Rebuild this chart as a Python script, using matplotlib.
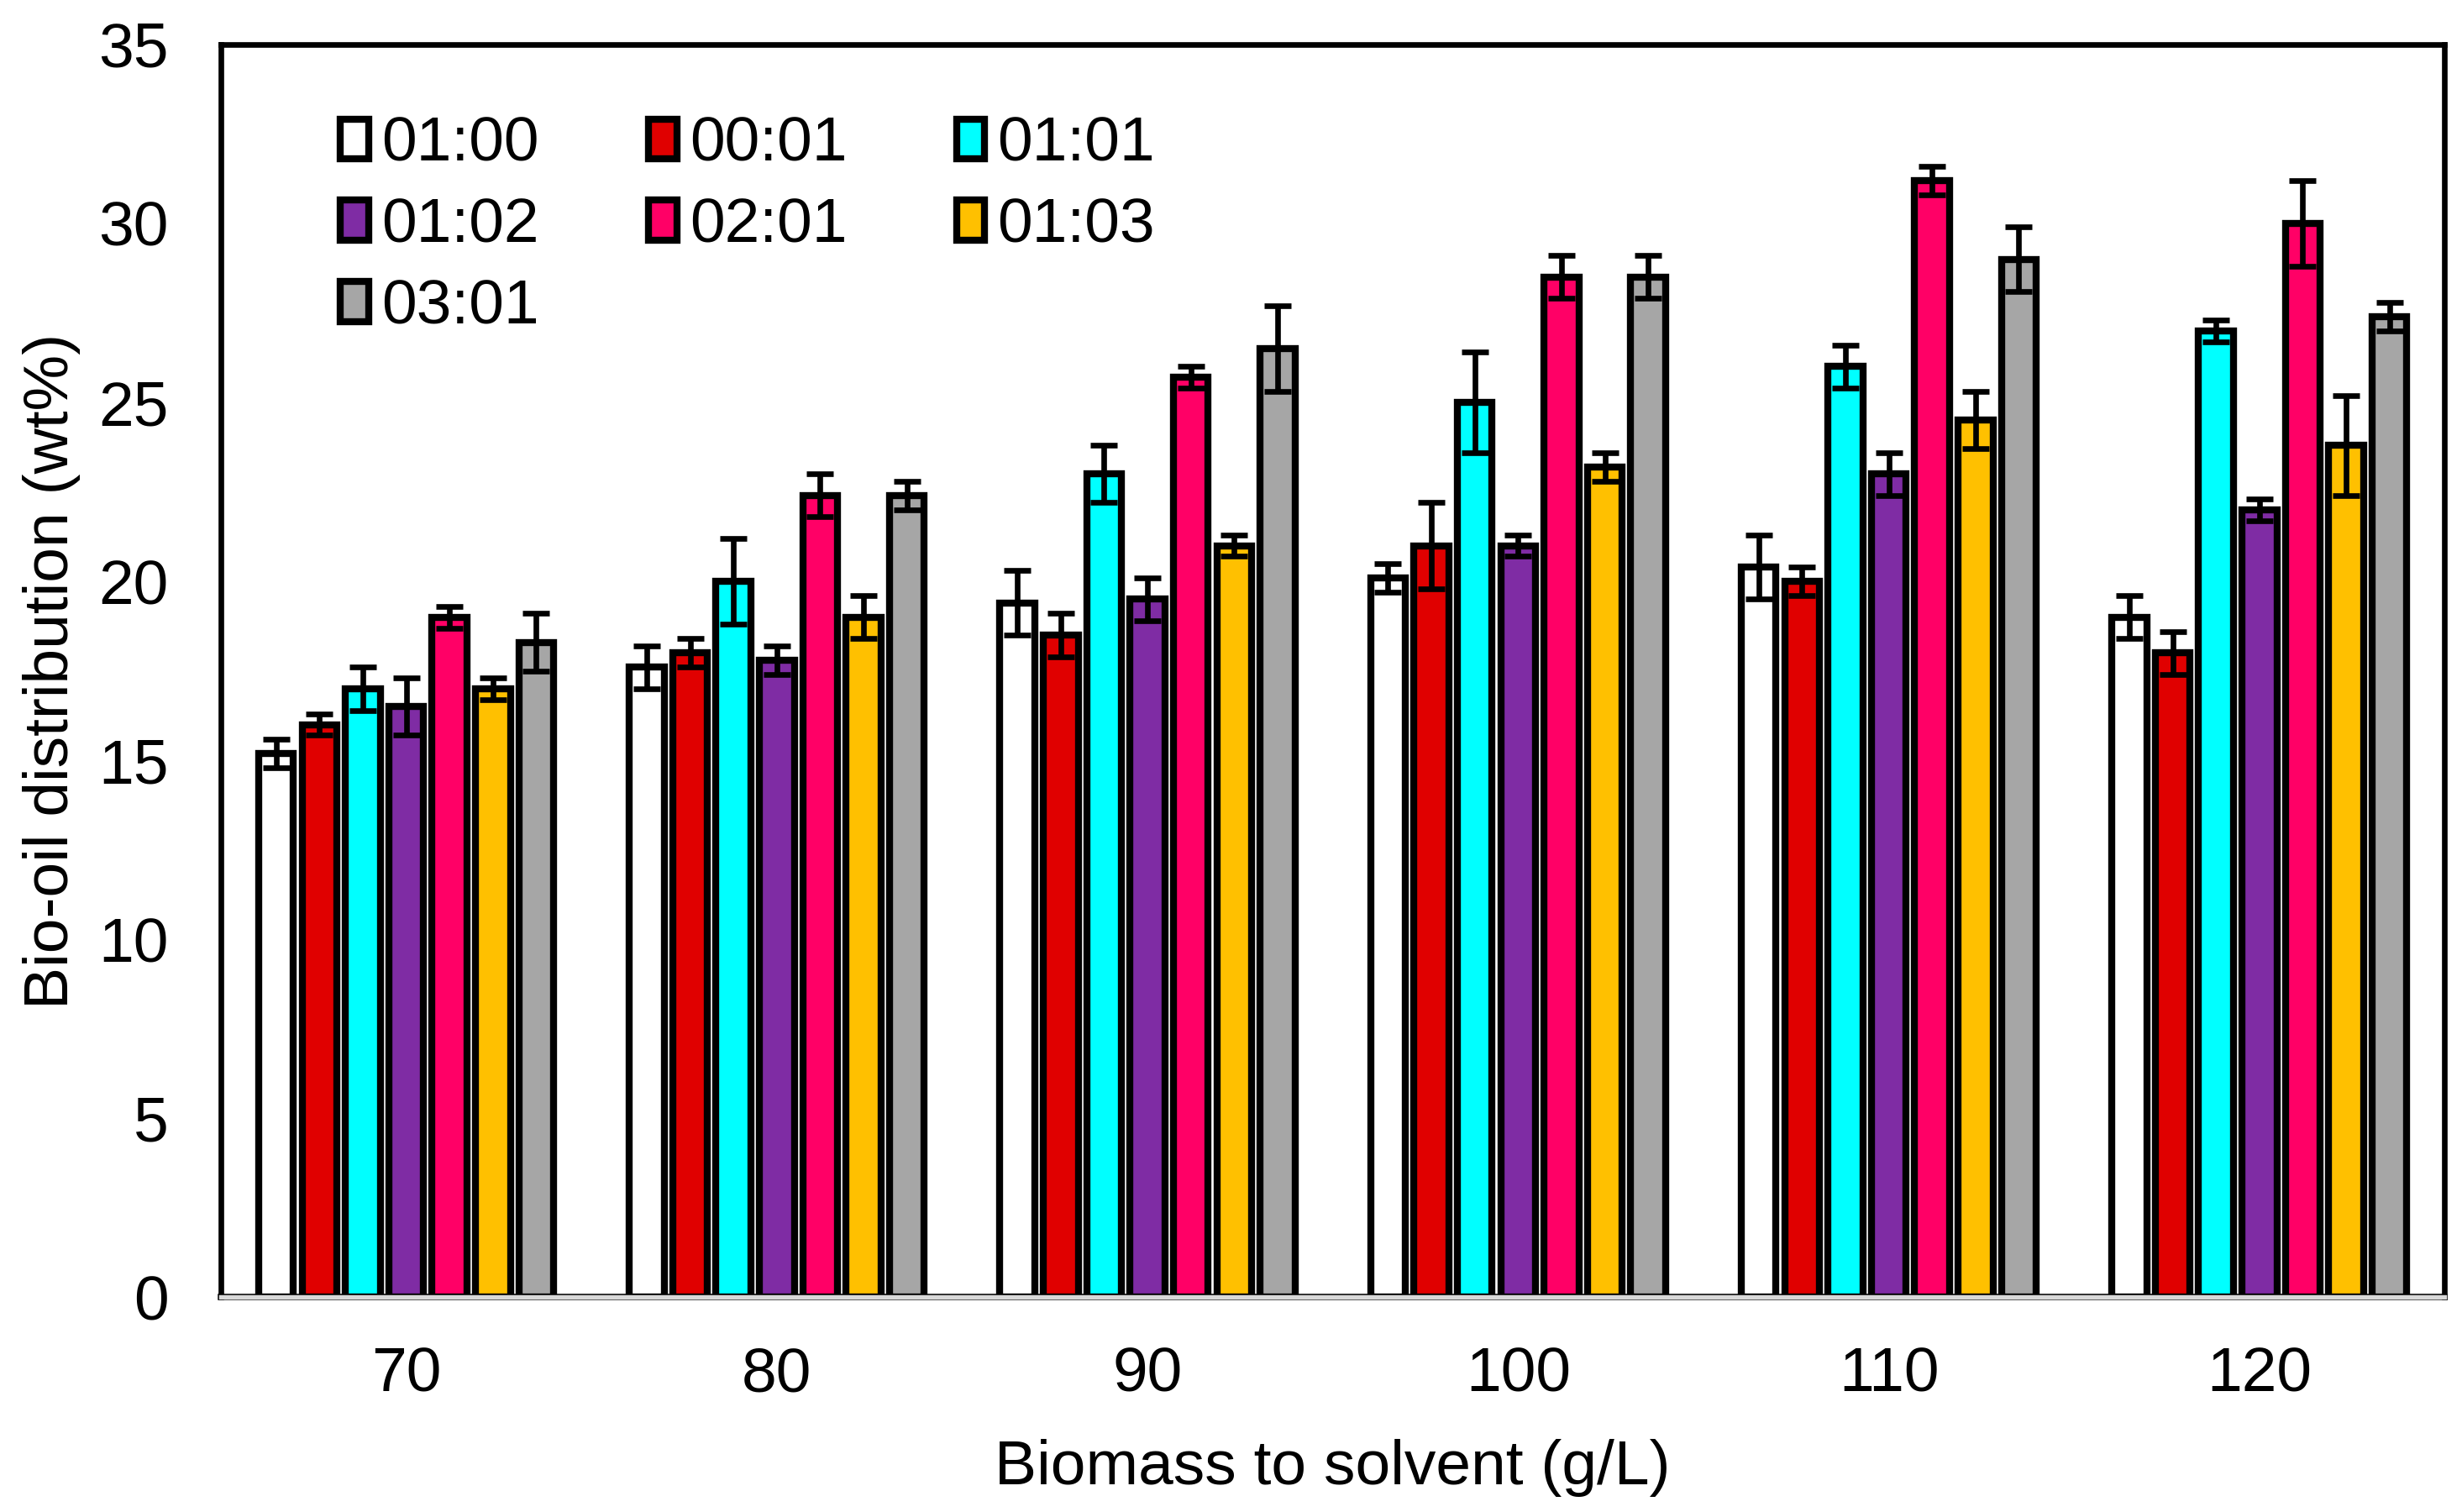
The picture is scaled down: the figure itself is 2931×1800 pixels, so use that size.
import numpy as np
import matplotlib
matplotlib.use('Agg')
import matplotlib.pyplot as plt
import matplotlib.patheffects as pe

plt.rcParams['font.family'] = ['Liberation Sans', 'DejaVu Sans']

# ── data ──
groups = ['70', '80', '90', '100', '110', '120']
series = ['01:00', '00:01', '01:01', '01:02', '02:01', '01:03', '03:01']

v_0100 = [15.2, 17.6, 19.4, 20.1, 20.4, 19.0]
v_0001 = [16.0, 18.0, 18.5, 21.0, 20.0, 18.0]
v_0101 = [17.0, 20.0, 23.0, 25.0, 26.0, 27.0]
v_0102 = [16.5, 17.8, 19.5, 21.0, 23.0, 22.0]
v_0201 = [19.0, 22.4, 25.7, 28.5, 31.2, 30.0]
v_0103 = [17.0, 19.0, 21.0, 23.2, 24.5, 23.8]
v_0301 = [18.3, 22.4, 26.5, 28.5, 29.0, 27.4]

e_0100 = [0.4, 0.6, 0.9, 0.4, 0.9, 0.6]
e_0001 = [0.3, 0.4, 0.6, 1.2, 0.4, 0.6]
e_0101 = [0.6, 1.2, 0.8, 1.4, 0.6, 0.3]
e_0102 = [0.8, 0.4, 0.6, 0.3, 0.6, 0.3]
e_0201 = [0.3, 0.6, 0.3, 0.6, 0.4, 1.2]
e_0103 = [0.3, 0.6, 0.3, 0.4, 0.8, 1.4]
e_0301 = [0.8, 0.4, 1.2, 0.6, 0.9, 0.4]

values = [v_0100, v_0001, v_0101, v_0102, v_0201, v_0103, v_0301]
errors = [e_0100, e_0001, e_0101, e_0102, e_0201, e_0103, e_0301]
colors = ['#ffffff', '#e00000', '#00ffff', '#7f2ca4', '#ff0066', '#ffc000', '#a6a6a6']

# ── figure ──
fig = plt.figure(figsize=(9.77, 6.0), dpi=300)
ax = fig.add_axes([0.0897, 0.142, 0.9033, 0.8286])

x = np.arange(len(groups))
slot = 0.117
width = 0.094
handles = []
for i, (name, vals, errs, col) in enumerate(zip(series, values, errors, colors)):
    pos = x + (i - 3) * slot
    b = ax.bar(pos, vals, width=width, color=col, edgecolor='black',
               linewidth=2.0, label=name, zorder=2)
    handles.append(b)
    ax.errorbar(pos, vals, yerr=errs, fmt='none', ecolor='black',
                elinewidth=1.6, capsize=3.8, capthick=1.6, zorder=3)

ax.set_xlim(-0.5, len(groups) - 0.5)
ax.set_ylim(0, 35)
ax.set_yticks(np.arange(0, 36, 5))
ax.set_xticks(x)
ax.set_xticklabels(groups)
ax.tick_params(axis='both', length=0, labelsize=18)
ax.tick_params(axis='y', pad=15)
ax.tick_params(axis='x', pad=14)

for side in ['left', 'top', 'right']:
    ax.spines[side].set_linewidth(1.6)
    ax.spines[side].set_color('black')
ax.spines['bottom'].set_color('#d9d9d9')
ax.spines['bottom'].set_linewidth(1.3)
ax.spines['bottom'].set_path_effects([pe.Stroke(linewidth=1.8, foreground='black'),
                                      pe.Normal()])

ax.set_xlabel('Biomass to solvent (g/L)', fontsize=18, labelpad=10)
ax.set_ylabel('Bio-oil distribution (wt%)', fontsize=18, labelpad=5)

# legend filled row by row like the original (matplotlib fills by column)
order = [0, 3, 6, 1, 4, 2, 5]
ax.legend([handles[k] for k in order], [series[k] for k in order],
          loc='upper left', bbox_to_anchor=(0.0537, 0.943), ncol=3,
          frameon=False, fontsize=18, borderpad=0, borderaxespad=0,
          handlelength=0.45, handleheight=0.6, handletextpad=0.2,
          columnspacing=1.74, labelspacing=0.37)

fig.savefig('out.png', dpi=300, facecolor='white')
